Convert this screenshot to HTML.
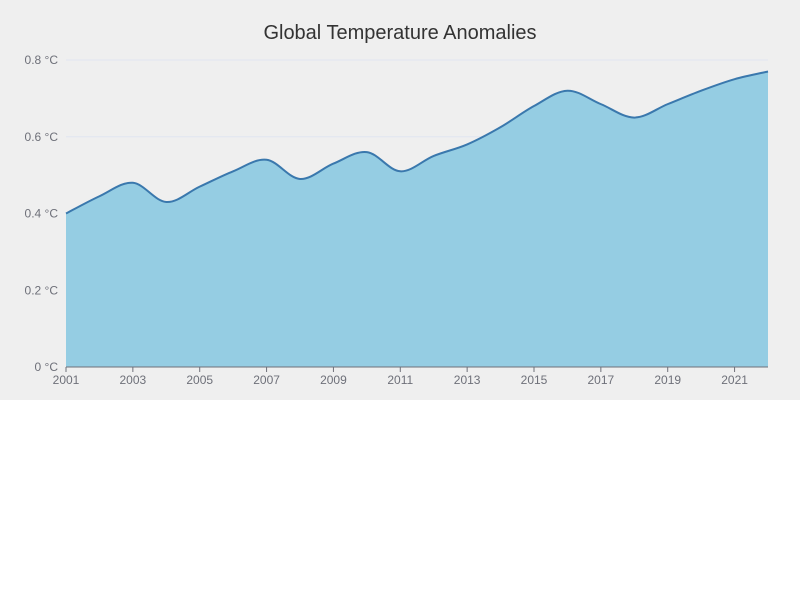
<!DOCTYPE html>
<html><head><meta charset="utf-8"><style>
html,body{margin:0;padding:0;background:#fff;}
svg{display:block;font-family:"Liberation Sans",sans-serif;}
</style></head><body>
<svg id="chart" width="800" height="600">
<rect x="0" y="0" width="800" height="400" fill="#efefef"/>
<text x="400" y="39" text-anchor="middle" font-size="20" fill="#333">Global Temperature Anomalies</text>
<g id="grid"></g><g id="area"></g><g id="axes"></g>
</svg>
<script>
const years = [2001,2002,2003,2004,2005,2006,2007,2008,2009,2010,2011,2012,2013,2014,2015,2016,2017,2018,2019,2020,2021,2022];
const anomalies = [0.40,0.445,0.48,0.43,0.47,0.51,0.54,0.49,0.53,0.56,0.51,0.55,0.58,0.625,0.68,0.72,0.685,0.65,0.685,0.72,0.75,0.77];
const yTicks = [0,0.2,0.4,0.6,0.8];
const xLabelYears = [2001,2003,2005,2007,2009,2011,2013,2015,2017,2019,2021];
const NS='http://www.w3.org/2000/svg';
const L=66,R=768,T=60,B=367,yMax=0.8;
const xS=y=>L+(y-years[0])/(years[years.length-1]-years[0])*(R-L);
const yS=v=>B-v/yMax*(B-T);
function mk(tag,attrs,parent){const e=document.createElementNS(NS,tag);for(const k in attrs)e.setAttribute(k,attrs[k]);parent.appendChild(e);return e;}
const grid=document.getElementById('grid'),area=document.getElementById('area'),axes=document.getElementById('axes');
yTicks.forEach(v=>{
  const g=mk('line',{x1:L,x2:R,y1:yS(v),y2:yS(v),stroke:'#e0e6f1','stroke-width':1},grid);
  
  
  const t=mk('text',{x:58,y:yS(v)+4,'text-anchor':'end','font-size':12,fill:'#6e7079'},axes);
  t.textContent=v+' °C';
  
  
});
const pts=years.map((y,i)=>[xS(y),yS(anomalies[i])]);
let d='M'+pts[0][0]+','+pts[0][1];
for(let i=0;i<pts.length-1;i++){
  const p0=pts[Math.max(0,i-1)],p1=pts[i],p2=pts[i+1],p3=pts[Math.min(pts.length-1,i+2)];
  const s=0.17;
  const c1=[p1[0]+(p2[0]-p0[0])*s,p1[1]+(p2[1]-p0[1])*s];
  const c2=[p2[0]-(p3[0]-p1[0])*s,p2[1]-(p3[1]-p1[1])*s];
  d+=' C'+c1+' '+c2+' '+p2;
}
const fill=mk('path',{d:d+' L'+R+','+B+' L'+L+','+B+' Z',fill:'#95cde3'},area);


const line=mk('path',{d:d,fill:'none',stroke:'#3a78ad','stroke-width':2},area);


const ax=mk('line',{x1:L,x2:R,y1:B,y2:B,stroke:'#6e7079','stroke-width':1},axes);


xLabelYears.forEach(y=>{
  const tk=mk('line',{x1:xS(y),x2:xS(y),y1:B,y2:B+5,stroke:'#6e7079'},axes);
  
  
  const t=mk('text',{x:xS(y),y:B+17,'text-anchor':'middle','font-size':12,fill:'#6e7079'},axes);
  t.textContent=y;
  
  
});
</script>
</body></html>
